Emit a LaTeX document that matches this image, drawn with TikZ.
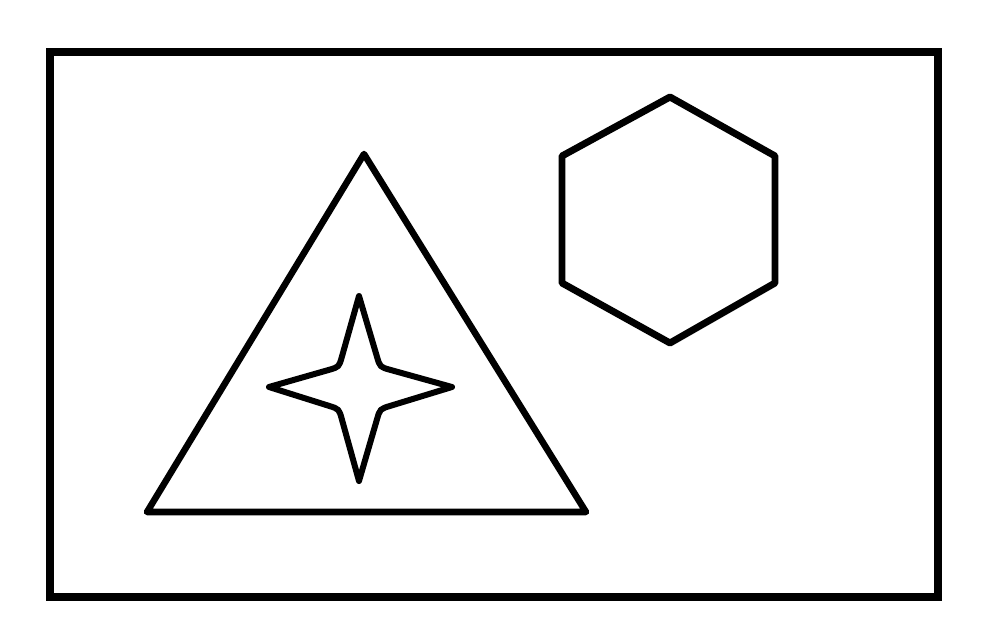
\documentclass[tikz,border=0pt]{standalone}
\usetikzlibrary{calc}
\begin{document}
\begin{tikzpicture}[x=0.75pt,y=-0.75pt,
  shapeline/.style={draw=black,line join=round,line cap=round},
  frameline/.style={shapeline,line width=5.6pt,line join=miter}]
\useasboundingbox (0,0) rectangle (996,636);
% frame
\draw[frameline] (50,52) rectangle (938,597);
% triangle
\draw[shapeline,line width=4.9pt] (364,154) -- (586,512) -- (147,512) -- cycle;
% hexagon
\draw[shapeline,line width=5.2pt] (670,97) -- (775,156) -- (775,283) -- (670,343) -- (562,283) -- (562,156) -- cycle;
% star
\coordinate (st) at (359,296);
\coordinate (sr) at (452,387);
\coordinate (sb) at (359,481);
\coordinate (sl) at (269,387);
\coordinate (k1) at (339,367);
\coordinate (k2) at (380,367);
\coordinate (k3) at (380,409);
\coordinate (k4) at (339,409);
\draw[shapeline,line width=4.5pt]
  (st) -- ($(k1)!8pt!(st)$) .. controls (k1) .. ($(k1)!8pt!(sl)$)
  -- (sl) -- ($(k4)!8pt!(sl)$) .. controls (k4) .. ($(k4)!8pt!(sb)$)
  -- (sb) -- ($(k3)!8pt!(sb)$) .. controls (k3) .. ($(k3)!8pt!(sr)$)
  -- (sr) -- ($(k2)!8pt!(sr)$) .. controls (k2) .. ($(k2)!8pt!(st)$)
  -- cycle;
\end{tikzpicture}
\end{document}
